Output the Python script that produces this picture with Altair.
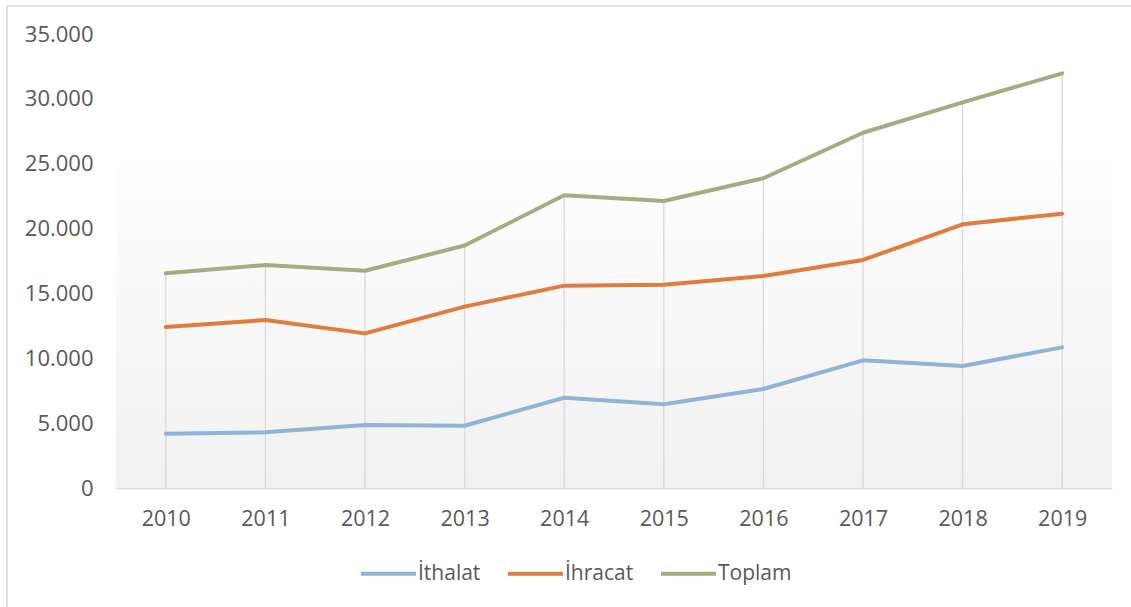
import altair as alt
import pandas as pd

years = ["2010", "2011", "2012", "2013", "2014", "2015", "2016", "2017", "2018", "2019"]
ithalat = [4190, 4290, 4850, 4800, 6960, 6450, 7630, 9840, 9410, 10840]
ihracat = [12410, 12950, 11920, 13980, 15600, 15670, 16340, 17580, 20330, 21150]
toplam = [16550, 17190, 16750, 18690, 22570, 22130, 23880, 27390, 29730, 31970]
series = ["İthalat", "İhracat", "Toplam"]
colors = ["#90B4D7", "#E07C3E", "#A3AD7F"]
y_ticks = [0, 5000, 10000, 15000, 20000, 25000, 30000, 35000]

W, H = 996, 454
L, T = 116, 34
FONT = "Open Sans"
TXT = "#595959"

rows = []
for name, vals in zip(series, [ithalat, ihracat, toplam]):
    for yr, v in zip(years, vals):
        rows.append({"Yıl": yr, "Seri": name, "Değer": v})
df = pd.DataFrame(rows)
drop_df = pd.DataFrame({"Yıl": years, "Değer": toplam})
one = pd.DataFrame({"k": [0]})

xscale = alt.Scale(type="point", padding=0.5, domain=years)
yscale = alt.Scale(domain=[0, 35000])

bg = alt.Chart(one).mark_rect(
    color=alt.Gradient(
        gradient="linear",
        stops=[alt.GradientStop(color="#ffffff", offset=0),
               alt.GradientStop(color="#ffffff", offset=0.22),
               alt.GradientStop(color="#f1f1f1", offset=1)],
        x1=0, x2=0, y1=0, y2=1,
    )
).encode(x=alt.value(0), x2=alt.value(W), y=alt.value(0), y2=alt.value(H))

border = alt.Chart(one).mark_rect(
    filled=False, stroke="#d9d9d9", strokeWidth=1.6
).encode(x=alt.value(7 - L), x2=alt.value(1131 - L + 30),
         y=alt.value(6 - T), y2=alt.value(607 - T + 30))

drops = alt.Chart(drop_df).mark_rule(color="#d9d9d9", strokeWidth=1.3).encode(
    x=alt.X("Yıl:O", scale=xscale,
            axis=alt.Axis(title=None, labelAngle=0, ticks=False, grid=False,
                          domainColor="#d9d9d9", domainWidth=1.5,
                          labelFont=FONT, labelFontSize=21.5, labelColor=TXT,
                          labelPadding=20)),
    y=alt.Y("Değer:Q", scale=yscale,
            axis=alt.Axis(title=None, values=y_ticks, ticks=False, grid=False, domain=False,
                          labelFont=FONT, labelFontSize=22, labelColor=TXT,
                          labelPadding=23,
                          labelExpr="replace(format(datum.value, ','), ',', '.')")),
    y2=alt.datum(0),
)

lines = alt.Chart(df).mark_line(strokeWidth=4, strokeCap="round", strokeJoin="round").encode(
    x=alt.X("Yıl:O", scale=xscale),
    y=alt.Y("Değer:Q", scale=yscale),
    color=alt.Color("Seri:N", scale=alt.Scale(domain=series, range=colors),
                    legend=alt.Legend(title=None, orient="none", direction="horizontal",
                                      legendX=243, legendY=510, padding=0,
                                      symbolType="stroke", symbolSize=3025,
                                      symbolStrokeWidth=4, labelOffset=0,
                                      columnPadding=19,
                                      labelFont=FONT, labelFontSize=21, labelColor=TXT)),
    detail="Seri:N",
)

chart = alt.layer(bg, border, drops, lines).properties(
    width=W, height=H,
    autosize=alt.AutoSizeParams(type="none"),
    padding={"left": L, "top": T, "right": 1131 - L - W, "bottom": 607 - T - H},
    background="#ffffff",
).configure_view(stroke=None)

chart.save("out.html", embed_options={"renderer": "svg", "actions": False})
